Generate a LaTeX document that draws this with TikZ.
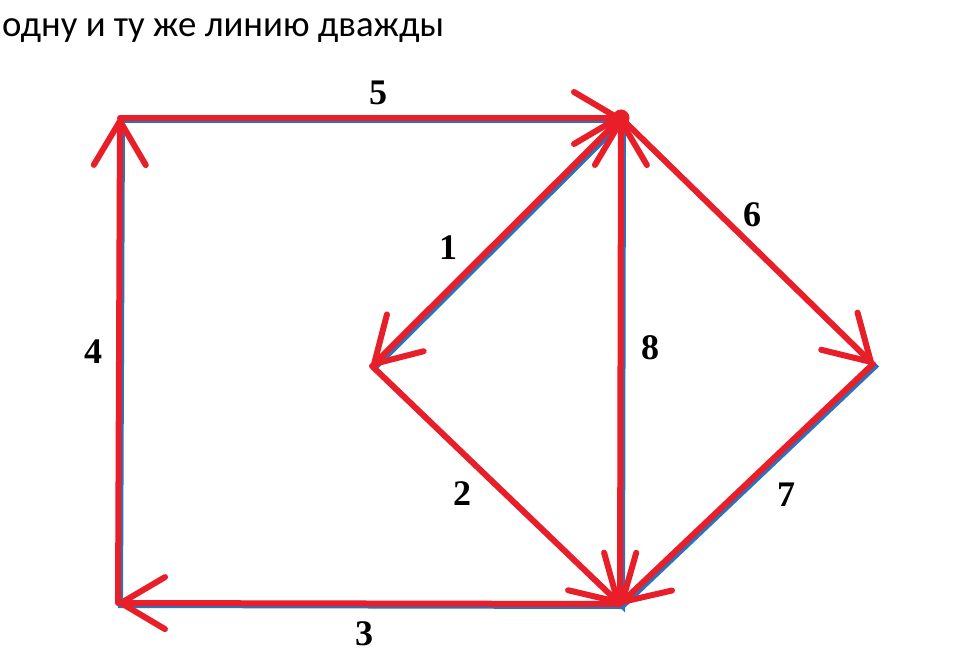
\documentclass[tikz,border=0pt]{standalone}
\usepackage{fontspec}
\setmainfont{Liberation Serif}
\newfontfamily\titlefont{Carlito}
\usetikzlibrary{arrows.meta}
\definecolor{penred}{RGB}{232,30,40}
\definecolor{inkblue}{RGB}{40,115,190}
\begin{document}
\begin{tikzpicture}[x=1pt,y=-1pt,
    base line/.style={inkblue,line width=5pt,line cap=round},
    route/.style={penred,line width=6pt,line cap=round,line join=round,
      -{Straight Barb[length=44pt,width=52pt,round]}},
    num/.style={font=\bfseries\fontsize{36}{36}\selectfont,inner sep=0pt}]
  \useasboundingbox (0,0) rectangle (960,652);
  \fill[white] (0,0) rectangle (960,652);
  \node[anchor=base west,inner sep=0pt,font=\titlefont\fontsize{36.8}{40}\selectfont] (title) at (2,37) {одну и ту же линию дважды};
  % vertices
  \coordinate (tl) at (120,118);
  \coordinate (top) at (621,118);
  \coordinate (left) at (372,366);
  \coordinate (right) at (873,364);
  \coordinate (bot) at (620,604);
  \coordinate (bl) at (118,603);
  % original figure
  \begin{scope}[transform canvas={shift={(2.5pt,-2.5pt)}}]
    \draw[base line] (tl) -- (top) -- (right) -- (bot) -- (bl) -- cycle;
    \draw[base line] (top) -- (left) -- (bot) -- (top);
  \end{scope}
  % path without lifting the pen
  \draw[route] (top) -- (left);
  \draw[route] (left) -- (bot);
  \draw[route] (bot) -- (bl);
  \draw[route] (bl) -- (tl);
  \draw[route] (tl) -- (top);
  \draw[route] (top) -- (right);
  \draw[route] (right) -- (bot);
  \draw[route] (bot) -- (top);
  \fill[penred] (top) circle (8.5);
  % numbers
  \node[num] (n1) at (448,248) {1};
  \node[num] (n2) at (462,494) {2};
  \node[num] (n3) at (364,634) {3};
  \node[num] (n4) at (93,352) {4};
  \node[num] (n5) at (378,93) {5};
  \node[num] (n6) at (752,215) {6};
  \node[num] (n7) at (786,495) {7};
  \node[num] (n8) at (650,348) {8};
\end{tikzpicture}
\end{document}
